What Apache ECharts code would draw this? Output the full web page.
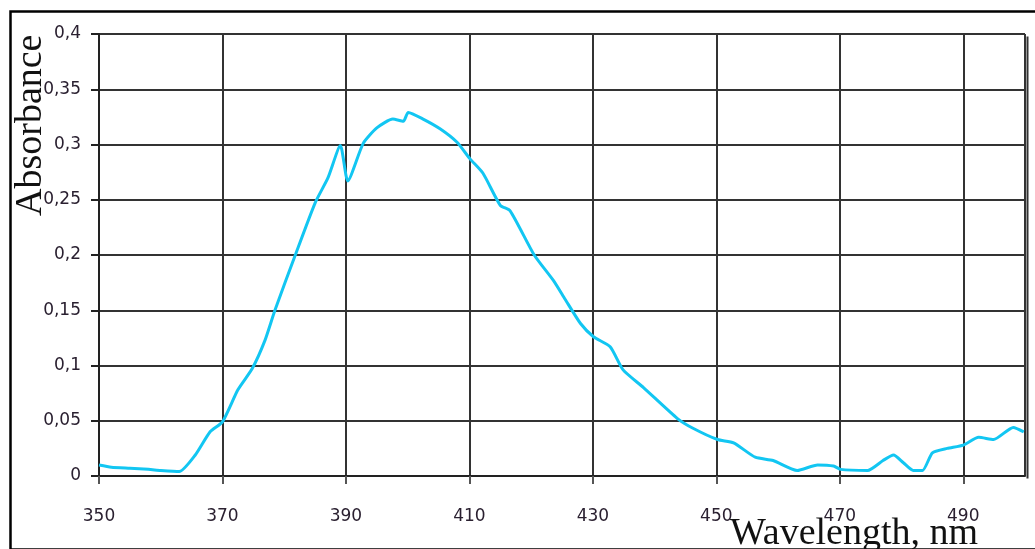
<!DOCTYPE html>
<html>
<head>
<meta charset="utf-8">
<script src="https://cdn.jsdelivr.net/npm/echarts@6/dist/echarts.min.js"></script>
<style>
  html, body { margin: 0; padding: 0; background: #fff; }
  #chart { width: 1035px; height: 549px; }
</style>
</head>
<body>
<div id="chart"></div>
<script>
// wavelength (nm) and absorbance
const wavelength = [350, 352, 355, 358, 360, 363, 365.6, 368, 370, 372.5, 374.8, 376.9, 378.5, 381.8, 385, 387.1, 389.1, 390.3,
  392.8, 395, 397.6, 399.3, 400.1, 402.5, 405.3, 408, 410.1, 412.2, 415, 416.6, 420.5, 423.6, 425.5, 428, 430.1,
  432.8, 434.9, 438.2, 443.7, 446.3, 450.2, 452.8, 456.3, 459.2, 463.1, 466.4, 469, 470.1, 474.5, 477, 478.7,
  480.3, 481.9, 483.4, 485, 487.4, 490, 492.5, 494.9, 498.1, 499.8];
const absorbance = [0.010, 0.008, 0.007, 0.006, 0.005, 0.004, 0.019, 0.040, 0.049, 0.078, 0.097, 0.123, 0.150, 0.200, 0.247, 0.270, 0.299, 0.267,
  0.301, 0.315, 0.323, 0.321, 0.329, 0.323, 0.314, 0.302, 0.287, 0.274, 0.245, 0.240, 0.200, 0.177, 0.160, 0.138, 0.126,
  0.117, 0.096, 0.080, 0.052, 0.043, 0.033, 0.030, 0.017, 0.014, 0.005, 0.010, 0.009, 0.006, 0.005, 0.014, 0.019,
  0.012, 0.005, 0.005, 0.021, 0.025, 0.028, 0.035, 0.033, 0.044, 0.040];

const chart = echarts.init(document.getElementById('chart'));
chart.setOption({
  animation: false,
  backgroundColor: '#fff',
  grid: { left: 99, top: 34, right: 10, bottom: 73 },
  xAxis: {
    type: 'value', min: 350, max: 500, interval: 20,
    axisLine: { show: true, lineStyle: { color: '#222', width: 2 } },
    axisTick: { show: true, length: 8, lineStyle: { color: '#555', width: 2 } },
    axisLabel: { showMaxLabel: false, margin: 32, color: '#2a2030', fontFamily: 'DejaVu Sans', fontSize: 17,
      formatter: v => v === 500 ? '' : String(v) },
    splitLine: { show: true, lineStyle: { color: '#333', width: 2 } }
  },
  yAxis: {
    type: 'value', min: 0, max: 0.4, interval: 0.05,
    axisLine: { show: true, lineStyle: { color: '#222', width: 2 } },
    axisTick: { show: true, length: 8, lineStyle: { color: '#222', width: 2 } },
    axisLabel: { margin: 18, color: '#2a2030', fontFamily: 'DejaVu Sans', fontSize: 17,
      formatter: v => String(+v.toFixed(2)).replace('.', ',') },
    splitLine: { show: true, lineStyle: { color: '#333', width: 2 } }
  },
  graphic: [
    { type: 'rect', left: 8, top: 9, z: -10, silent: true,
      shape: { width: 1040, height: 538 }, style: { fill: 'none', stroke: '#000', lineWidth: 2.5 } },
    { type: 'rect', left: 1025, top: 34, silent: true,
      shape: { width: 0, height: 442 }, style: { fill: 'none', stroke: '#333', lineWidth: 2 } },
    { type: 'text', x: 12, y: 216, rotation: Math.PI / 2, silent: true,
      style: { text: 'Absorbance', fill: '#111', font: '38px "Liberation Serif"', textAlign: 'left', textVerticalAlign: 'top' } },
    { type: 'text', x: 730, y: 553, silent: true, z: 10,
      style: { text: 'Wavelength, nm', fill: '#111', font: '38px "Liberation Serif"', textAlign: 'left', textVerticalAlign: 'bottom' } }
  ],
  series: [{
    type: 'line',
    data: wavelength.map((w, i) => [w, absorbance[i]]),
    showSymbol: false,
    smooth: 0.2,
    lineStyle: { color: '#12c6f2', width: 3 }
  }]
});
</script>
</body>
</html>
